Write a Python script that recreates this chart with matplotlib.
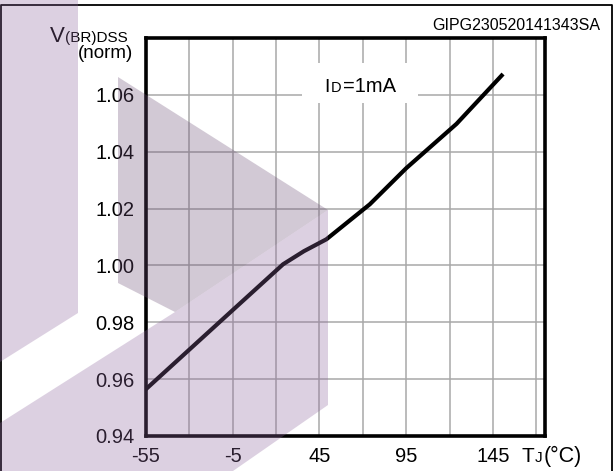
import matplotlib
matplotlib.use('Agg')
import matplotlib.pyplot as plt
from matplotlib.patches import Polygon, Rectangle
from matplotlib.lines import Line2D

plt.rcParams['font.family'] = ['Liberation Sans', 'DejaVu Sans']
plt.rcParams['axes.unicode_minus'] = False

# 数据：归一化击穿电压 vs 结温
temp_c = [-55, -30, -5, 24, 36, 49, 74, 95, 124, 150]
vbr_norm = [0.9565, 0.9704, 0.9843, 1.0004, 1.0050, 1.0092, 1.0215, 1.0342, 1.0498, 1.0668]

x_ticks = [-55, -5, 45, 95, 145]
x_grid = [-55, -30, -5, 20, 45, 70, 95, 120, 145, 170]
y_ticks = [0.94, 0.96, 0.98, 1.00, 1.02, 1.04, 1.06]
y_labels = ['0.94', '0.96', '0.98', '1.00', '1.02', '1.04', '1.06']

W, H = 615, 471
fig = plt.figure(figsize=(W / 100, H / 100), dpi=100)


def fx(px):
    return px / W


def fy(py):
    return 1 - py / H


ax = fig.add_axes([fx(146), fy(436), fx(545) - fx(146), fy(38) - fy(436)])
ax.set_facecolor('none')
ax.plot(temp_c, vbr_norm, color='black', linewidth=3.0, solid_joinstyle='round', zorder=4)

ax.set_xlim(-55, 175)
ax.set_ylim(0.94, 1.08)
ax.set_xticks(x_ticks)
ax.set_xticks(x_grid, minor=True)
ax.set_yticks(y_ticks)
ax.set_yticklabels(y_labels)
ax.tick_params(axis='both', which='both', length=0, labelsize=14.5, pad=8)
ax.grid(True, which='both', color='#a8a8a8', linewidth=1.1)
ax.set_axisbelow(True)
for s in ax.spines.values():
    s.set_linewidth(2.6)
    s.set_color('black')

# 注释框 ID=1mA
fig.add_artist(Rectangle((fx(302), fy(103)), fx(418) - fx(302), fy(63) - fy(103),
                         transform=fig.transFigure, facecolor='white', edgecolor='none', zorder=3))
fig.text(fx(324), fy(92), 'I', fontsize=14, va='baseline', zorder=4)
fig.text(fx(330.5), fy(92), 'D', fontsize=10.5, va='baseline', zorder=4)
fig.text(fx(342.5), fy(92), '=1mA', fontsize=14.5, va='baseline', zorder=4)

# 轴标签
fig.text(fx(50), fy(42), 'V', fontsize=16, va='baseline')
fig.text(fx(65), fy(42), '(BR)DSS', fontsize=11, va='baseline')
fig.text(fx(133), fy(58), '(norm)', fontsize=13.5, va='baseline', ha='right')
fig.text(fx(521), fy(462), 'T', fontsize=15, va='baseline')
fig.text(fx(535), fy(462), 'J', fontsize=11, va='baseline')
fig.text(fx(544), fy(462), '(°C)', fontsize=15.5, va='baseline')
fig.text(fx(600), fy(30), 'GIPG230520141343SA', fontsize=11.5, va='baseline', ha='right')

# 外框
frame = [(1, 471), (1, 5), (612, 5), (612, 471)]
fig.add_artist(Line2D([fx(p[0]) for p in frame], [fy(p[1]) for p in frame],
                      transform=fig.transFigure, color='black', linewidth=1.3))

# 水印
light = '#8e669e'
dark = '#6c4e76'
shapes = [
    ([(0, 0), (78, 0), (78, 313), (0, 362)], light),
    ([(118, 77), (328, 210), (175, 312), (118, 283)], dark),
    ([(0, 423), (175, 312), (328, 210), (328, 405), (233, 471), (0, 471)], light),
]
for pts, c in shapes:
    fig.add_artist(Polygon([(fx(a), fy(b)) for a, b in pts], closed=True,
                           transform=fig.transFigure, facecolor=c, edgecolor='none',
                           alpha=0.3, zorder=10))

plt.savefig('out.png', dpi=100, facecolor='white')
